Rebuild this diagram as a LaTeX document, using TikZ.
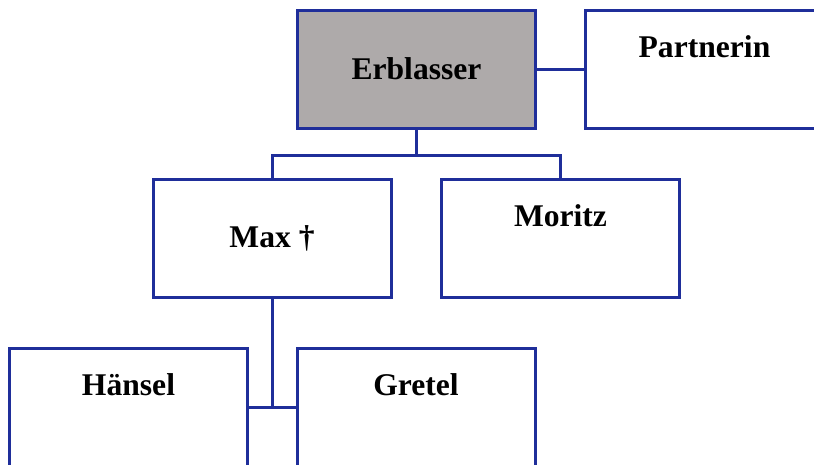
\documentclass[tikz,border=0pt]{standalone}
\usepackage{fontspec}
\setmainfont{Liberation Serif}
\usepackage{xcolor}
\usepackage{tikz}
\usetikzlibrary{calc}
\definecolor{linie}{RGB}{31,46,154}
\definecolor{grau}{RGB}{174,170,170}
\tikzset{
  person/.style={draw=linie, line width=3pt, fill=white, rectangle, inner sep=0pt,
    minimum width=238pt, minimum height=118pt, font=\bfseries\fontsize{31.6}{38}\selectfont},
  toptext/.style={label={[anchor=center, yshift=-38pt, font=\bfseries\fontsize{31.6}{38}\selectfont]north:#1}},
  verbindung/.style={draw=linie, line width=3pt}
}

\begin{document}
\begin{tikzpicture}[x=1pt, y=-1pt]
  \useasboundingbox (0,0) rectangle (814,464);
  \clip (0,0) rectangle (814,464);
  \node[person, fill=grau] (erblasser) at (416.5,69) {Erblasser};
  \node[person, toptext=Partnerin] (partnerin) at (704.5,69) {};
  \node[person] (max) at (272,238) {Max †};
  \node[person, toptext=Moritz] (moritz) at (560.5,238) {};
  \node[person, toptext=Hänsel] (haensel) at (128.5,407) {};
  \node[person, toptext=Gretel] (gretel) at (416,407) {};
  \draw[verbindung] (erblasser.east) -- (partnerin.west);
  \draw[verbindung] (erblasser.south) -- ++(0,26) coordinate (kinder);
  \draw[verbindung] (max.north) |- (kinder) -| (moritz.north);
  \draw[verbindung] (max.south) -- (max.south |- haensel.east) coordinate (enkel);
  \draw[verbindung] (haensel.east) -- (gretel.west);
\end{tikzpicture}
\end{document}
